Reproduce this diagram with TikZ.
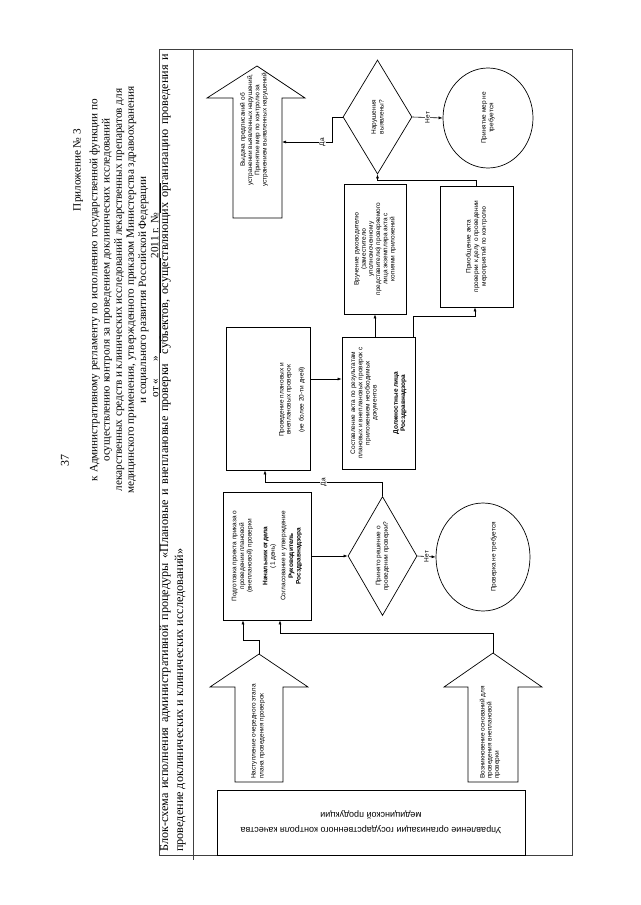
\documentclass[tikz,border=0pt]{standalone}
\usepackage{fontspec}
\setmainfont{Liberation Serif}
\newfontfamily\arial{Liberation Sans}
\usetikzlibrary{shapes.geometric,arrows.meta}

\tikzset{
  box/.style={draw, rotate=90, align=center, inner sep=1pt, line width=0.7pt,
    font=\arial\fontsize{6.5}{7.6}\selectfont},
  txt/.style={rotate=90, align=center, inner sep=0pt},
  dec/.style={draw, diamond, aspect=1.7, rotate=90, align=center, inner sep=0pt,
    line width=0.7pt, font=\arial\fontsize{6.5}{7.6}\selectfont},
  oval/.style={draw, ellipse, rotate=90, align=center, inner sep=0pt,
    line width=0.7pt, font=\arial\fontsize{6.5}{7.6}\selectfont},
  fat/.style={draw, line width=0.7pt},
  frame/.style={draw=black!75, line width=1pt},
  conn/.style={-{Latex[length=4pt,width=3pt]}, line width=0.6pt},
  lbl/.style={rotate=90, fill=white, inner sep=0.5pt,
    font=\arial\fontsize{6.5}{7.6}\selectfont},
}

\begin{document}
\begin{tikzpicture}[x=1pt,y=-1pt]
\useasboundingbox (0,0) rectangle (640,905);

% header
\node[txt, font=\fontsize{12}{12.4}\selectfont] (page) at (65,460) {37};
\node[txt, font=\fontsize{11.2}{12.2}\selectfont] (appx) at (78,170) {Приложение № 3};
\node[txt, font=\fontsize{11.2}{12.2}\selectfont] (reg) at (125,290)
  {к Административному регламенту по исполнению государственной функции по\\
   осуществлению контроля за проведением доклинических исследований\\
   лекарственных средств и клинических исследований лекарственных препаратов для\\
   медицинского применения, утвержденного приказом Министерства здравоохранения\\
   и социального развития Российской Федерации\\
   от «\hspace{1.5em}» \underline{\hspace{95pt}}2011 г. №\underline{\hspace{30pt}}};

% frame and title
\draw[frame] (159,49) rectangle (572,855);
\draw[frame] (193,49) -- (193,860);
\node[txt, anchor=west, text width=798pt, align=justify,
  font=\fontsize{12.2}{15}\selectfont] (title) at (172.5,852)
  {Блок-схема исполнения административной процедуры «Плановые и внеплановые проверки\ \ субъектов, осуществляющих организацию проведения и\linebreak
   проведение доклинических и клинических исследований»};

\node[draw, rotate=180, line width=0.7pt, minimum width=308, minimum height=65,
  align=center, font=\arial\fontsize{9}{15}\selectfont] (dept) at (371,822.5)
  {Управление организации государственного контроля качества\\ медицинской продукции};

% fat arrows
\draw[fat] (235,782) -- (235,687) -- (210,687) -- (259,654) -- (308,687) -- (283,687) -- (283,782) -- cycle;
\coordinate (tipA) at (259,654);
\node[txt, anchor=west, align=left, font=\arial\fontsize{6.5}{8}\selectfont] (txtA) at (258,779)
  {Наступление очередного этапа\\ плана проведения проверок};

\draw[fat] (468,782) -- (468,687) -- (444,687) -- (493,653) -- (542,687) -- (518,687) -- (518,782) -- cycle;
\coordinate (tipB) at (493,653);
\node[txt, anchor=west, align=left, font=\arial\fontsize{6.5}{7.2}\selectfont] (txtB) at (490,779)
  {Возникновение оснований для\\ проведения внеплановой\\ проверки};

\draw[fat] (233,218) -- (233,98) -- (207,98) -- (257,66) -- (305,98) -- (282,98) -- (282,218) -- cycle;
\coordinate (sideC) at (282,142);
\node[txt, font=\arial\fontsize{6.5}{7.2}\selectfont] (txtC) at (254,130)
  {Выдача предписаний об\\ устранении выявленных нарушений,\\ Принятие мер по контролю за\\ устранением выявленных нарушений};

% boxes
\node[box, minimum width=128, minimum height=88] (prep) at (267,556)
  {Подготовка проекта приказа о\\ проведении плановой\\ (внеплановой) проверки\\[8pt]
   \textbf{Начальник отдела}\\ (1 день)\\[3pt] Согласование и утверждение\\
   \textbf{Руководитель}\\ \textbf{Росздравнадзора}};
\node[box, minimum width=143, minimum height=84] (check) at (268,398.5) {};
\node[txt, font=\arial\fontsize{6.5}{7}\selectfont] (checktxt) at (292,400)
  {Проведение плановых и\\ внеплановых проверок\\[6pt] (не более 20-ти дней)};
\node[box, minimum width=132, minimum height=73,
  font=\arial\fontsize{6.5}{7.2}\selectfont] (act) at (378.5,403)
  {Составление акта по результатам\\ плановых и внеплановых проверок с\\
   приложением необходимых\\ документов\\[14pt]
   \textbf{Должностные лица}\\ \textbf{Росздравнадзора}};
\node[box, minimum width=130, minimum height=62,
  font=\arial\fontsize{6.5}{7.2}\selectfont] (hand) at (375,249)
  {Вручение руководителю\\ (заместителю\\ уполномоченному\\ представителю) проверяемого\\
   лица экземпляра акта с\\ копиями приложений};
\node[box, minimum width=121, minimum height=73,
  font=\arial\fontsize{6.5}{7.6}\selectfont] (file) at (476.5,246.5)
  {Приобщение акта\\ проверки к делу о проведении\\ мероприятий по контролю};

% decisions and ends
\node[dec, minimum width=119, minimum height=69] (dec1) at (382.5,556)
  {Принято решение о\\ проведении проверки?};
\node[dec, minimum width=114, minimum height=69] (dec2) at (377.5,117)
  {Нарушения\\ выявлены?};
\node[oval, minimum width=108, minimum height=94] (none1) at (483,557) {};
\node[txt, font=\arial\fontsize{6.5}{7.6}\selectfont] (none1txt) at (494,557) {Проверка не требуется};
\node[oval, minimum width=100, minimum height=90] (none2) at (488,118)
  {Принятие мер не\\ требуется};

% connectors
\draw[conn] (tipA) -- ++(0,-14) -| ([xshift=-24pt]prep.west);
\draw[conn] (tipB) -- ++(0,-20) -| ([xshift=13pt]prep.west);
\draw[conn] (prep.south) -- (dec1.north);
\draw[conn] (dec1.east) -- ++(0,-14) -| node[pos=0.25, lbl] {Да} ([xshift=-3pt]check.west);
\draw[conn] (dec1.south) -- node[lbl] {Нет} (none1.north);
\draw[conn] ([yshift=19.5pt]check.south) -- ([yshift=24pt]act.north);
\draw[conn] ([xshift=-3.5pt]act.east) -- (hand.west);
\draw[conn] ([xshift=34.5pt]act.east) -- ++(0,-20) -| ([xshift=-1.5pt]file.west);
\draw[conn] (file.east) -- ++(0,-5) -| (dec2.west);
\draw[conn] (dec2.north) -- ++(-10,0) |- node[pos=0.6, lbl] {Да} (sideC);
\draw[conn] (dec2.south) -- node[lbl] {Нет} (none2.north);
\end{tikzpicture}
\end{document}
